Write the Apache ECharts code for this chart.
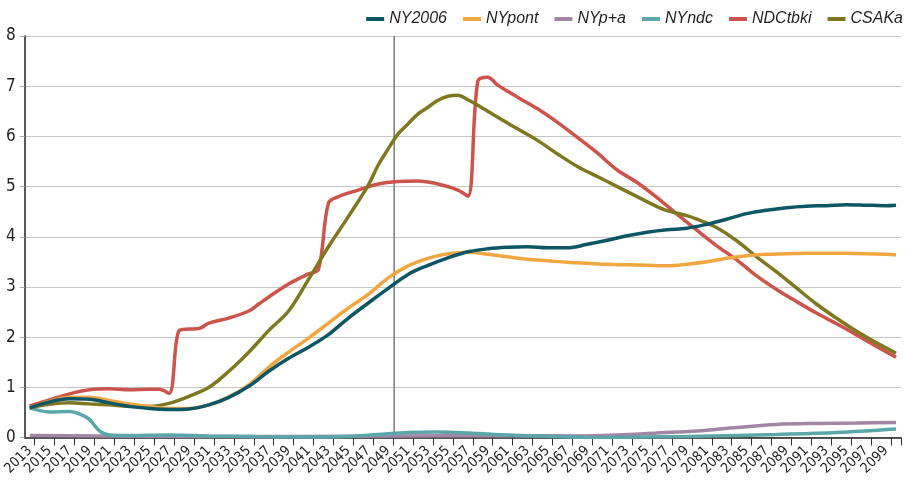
<!DOCTYPE html>
<html><head><meta charset="utf-8">
<script src="https://cdn.jsdelivr.net/npm/echarts@6/dist/echarts.min.js"></script>
<style>html,body{margin:0;padding:0;background:#fff}#c{width:916px;height:483px}</style>
</head><body><div id="c"></div>
<script>
// categories: every year 2013..2100
const years = [];
for (let y = 2013; y <= 2100; y++) years.push(String(y));
const yTicks = [0, 1, 2, 3, 4, 5, 6, 7, 8];
const seriesNames = ['NY2006', 'NYpont', 'NYp+a', 'NYndc', 'NDCtbki', 'CSAKa'];

const ny2006Years = [2013,2015,2017,2019,2021,2023,2025,2027,2029,2031,2033,2035,2037,2039,2041,2043,2045,2047,2049,2051,2053,2055,2057,2059,2061,2063,2065,2067,2069,2071,2073,2075,2077,2079,2081,2083,2085,2087,2089,2091,2093,2095,2097,2099,2100];
const ny2006Vals  = [0.59,0.71,0.77,0.76,0.69,0.62,0.58,0.56,0.57,0.65,0.80,1.02,1.32,1.58,1.80,2.05,2.38,2.68,2.97,3.25,3.43,3.58,3.70,3.76,3.79,3.80,3.78,3.78,3.85,3.93,4.02,4.09,4.14,4.17,4.25,4.35,4.46,4.53,4.58,4.61,4.62,4.64,4.63,4.62,4.63];

const nypontYears = [2013,2015,2017,2019,2021,2023,2025,2027,2029,2031,2033,2035,2037,2039,2041,2043,2045,2047,2049,2051,2053,2055,2057,2059,2061,2063,2065,2067,2069,2071,2073,2075,2077,2079,2081,2083,2085,2087,2089,2091,2093,2095,2097,2099,2100];
const nypontVals  = [0.59,0.72,0.80,0.80,0.74,0.67,0.62,0.58,0.58,0.65,0.81,1.05,1.40,1.70,1.98,2.28,2.58,2.85,3.18,3.42,3.57,3.66,3.69,3.65,3.60,3.55,3.52,3.49,3.47,3.45,3.44,3.43,3.42,3.45,3.50,3.57,3.62,3.65,3.66,3.67,3.67,3.67,3.66,3.65,3.64];

const nypaYears = [2013,2020,2030,2040,2050,2060,2068,2072,2076,2080,2084,2088,2092,2096,2100];
const nypaVals  = [0.04,0.03,0.02,0.02,0.03,0.04,0.03,0.05,0.09,0.13,0.20,0.26,0.28,0.29,0.30];

const nyndcYears = [2013,2015,2017,2018,2019,2020,2021,2023,2027,2031,2035,2040,2045,2048,2051,2054,2057,2062,2066,2070,2074,2079,2084,2088,2094,2100];
const nyndcVals  = [0.59,0.51,0.52,0.47,0.36,0.13,0.05,0.04,0.05,0.03,0.02,0.01,0.02,0.06,0.10,0.11,0.09,0.04,0.02,0.00,0.01,0.02,0.04,0.06,0.10,0.17];

const ndcYears = [2013,2015,2017,2019,2021,2023,2025,2026,2027,2028,2029,2030,2031,2033,2035,2036,2037,2039,2041,2042,2043,2044,2046,2048,2050,2052,2054,2056,2057,2058,2059,2060,2061,2062,2064,2066,2068,2070,2072,2074,2076,2078,2080,2082,2084,2086,2088,2090,2092,2094,2096,2098,2100];
const ndcVals  = [0.63,0.75,0.87,0.95,0.97,0.95,0.96,0.96,0.88,2.13,2.16,2.17,2.28,2.38,2.52,2.66,2.80,3.06,3.26,3.35,4.67,4.80,4.93,5.05,5.10,5.11,5.05,4.93,4.81,7.10,7.18,7.02,6.90,6.78,6.55,6.28,5.98,5.67,5.33,5.08,4.78,4.45,4.13,3.82,3.54,3.22,2.95,2.71,2.48,2.27,2.05,1.82,1.60];

const csakaYears = [2013,2015,2017,2019,2021,2023,2025,2027,2029,2031,2033,2035,2037,2039,2041,2043,2045,2047,2048,2049,2050,2051,2052,2053,2054,2055,2056,2057,2058,2060,2062,2064,2066,2068,2070,2072,2074,2076,2077,2078,2079,2080,2082,2084,2086,2088,2090,2092,2094,2096,2098,2100];
const csakaVals  = [0.59,0.66,0.69,0.67,0.65,0.62,0.62,0.68,0.82,1.00,1.32,1.70,2.13,2.52,3.15,3.80,4.40,5.03,5.43,5.75,6.05,6.25,6.45,6.58,6.72,6.80,6.82,6.73,6.62,6.38,6.15,5.92,5.65,5.40,5.20,5.00,4.80,4.60,4.52,4.47,4.42,4.35,4.18,3.92,3.60,3.30,2.98,2.66,2.38,2.12,1.89,1.68];

const colors = ['#0d5666', '#f1a640', '#a385a5', '#5ba6aa', '#cc544a', '#7f7820'];

function pairs(ys, vs) { return ys.map((y, i) => [String(y), vs[i]]); }
const allData = [
  pairs(ny2006Years, ny2006Vals),
  pairs(nypontYears, nypontVals),
  pairs(nypaYears, nypaVals),
  pairs(nyndcYears, nyndcVals),
  pairs(ndcYears, ndcVals),
  pairs(csakaYears, csakaVals)
];
const zOrder = [6, 5, 2, 3, 4, 4];

const chart = echarts.init(document.getElementById('c'), null, { renderer: 'canvas' });
const gridTop = 36, gridLeft = 23, gridWidth = 878, gridBottom = 45.5;

chart.setOption({
  animation: false,
  backgroundColor: '#fff',
  color: colors,
  textStyle: { fontFamily: '"Liberation Sans Narrow", "DejaVu Sans Condensed", sans-serif' },
  legend: {
    data: seriesNames,
    right: 8, top: 6,
    icon: 'rect', itemWidth: 18, itemHeight: 4, itemGap: 16,
    textStyle: { fontStyle: 'italic', fontSize: 16, color: '#231f20', fontFamily: '"Liberation Sans", sans-serif' }
  },
  grid: { left: gridLeft, top: gridTop, width: gridWidth, bottom: gridBottom },
  xAxis: {
    type: 'category', data: years, boundaryGap: true,
    axisLine: { lineStyle: { color: '#231f20', width: 1.5 } },
    axisTick: { show: true, interval: (i) => i % 2 === 1, length: 8, lineStyle: { color: '#333', width: 1 } },
    axisLabel: { interval: 1, rotate: 45, fontSize: 14, color: '#231f20', margin: 11 },
    splitLine: { show: false }
  },
  yAxis: {
    type: 'value', min: yTicks[0], max: yTicks[yTicks.length - 1], interval: 1,
    axisLine: { show: true, lineStyle: { color: '#231f20', width: 1.5 } },
    axisTick: { show: true, length: 5, lineStyle: { color: '#aaa' } },
    axisLabel: { fontSize: 17, color: '#231f20', margin: 9 },
    splitLine: { show: true, lineStyle: { color: '#c6c6c6', width: 1.2 } }
  },
  series: seriesNames.map((n, i) => ({
    name: n, type: 'line', data: allData[i], smooth: 0.35,
    showSymbol: false, symbol: 'none', z: zOrder[i],
    lineStyle: { width: 3.5, color: colors[i] }
  }))
});

const xa = chart.convertToPixel({ xAxisIndex: 0 }, '2049');
const xb = chart.convertToPixel({ xAxisIndex: 0 }, '2050');
const y0 = chart.convertToPixel({ yAxisIndex: 0 }, 0);
const y8 = chart.convertToPixel({ yAxisIndex: 0 }, 8);
chart.setOption({
  graphic: [{
    type: 'line', z: 1,
    shape: { x1: (xa + xb) / 2 + 1, y1: y8, x2: (xa + xb) / 2 + 1, y2: y0 },
    style: { stroke: '#7a7a7a', lineWidth: 1.5 }
  }]
});
</script>
</body></html>
